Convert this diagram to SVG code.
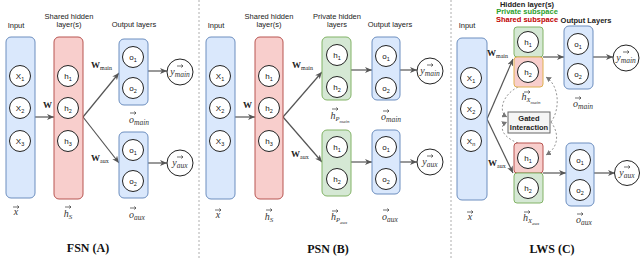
<svg xmlns="http://www.w3.org/2000/svg" xmlns:xlink="http://www.w3.org/1999/xlink" width="640" height="278" viewBox="0 0 640 278">
<style>
.bl{fill:#dae8fc;stroke:#6c8ebf;stroke-width:1}
.rd{fill:#f8cecc;stroke:#b85450;stroke-width:1}
.gr{fill:#d5e8d4;stroke:#82b366;stroke-width:1}
.nd{fill:#fff;stroke:#222;stroke-width:1}
.t{font-family:"Liberation Sans",Arial,sans-serif;font-size:7.5px;fill:#222;text-anchor:middle}
.n{font-family:"Liberation Sans",Arial,sans-serif;font-size:8px;fill:#111;text-anchor:middle}
.v{font-family:"Liberation Serif","Times New Roman",serif;font-style:italic;font-size:10px;fill:#333;text-anchor:middle}
.w{font-family:"Liberation Serif","Times New Roman",serif;font-weight:bold;font-size:9px;fill:#222}
.ttl{font-family:"Liberation Serif","Times New Roman",serif;font-weight:bold;font-size:12px;fill:#111;text-anchor:middle}
.ar{fill:none;stroke:#555;stroke-width:1.2;marker-end:url(#ah)}
.da{fill:none;stroke:#888;stroke-width:0.9;stroke-dasharray:2,2;marker-end:url(#dh)}
.sep{stroke:#999;stroke-width:0.8;stroke-dasharray:2,2}
.va{fill:none;stroke:#333;stroke-width:0.7}
</style>
<defs>
<marker id="ah" markerUnits="userSpaceOnUse" markerWidth="8" markerHeight="6" refX="7" refY="3" orient="auto"><path d="M0,0 L7,3 L0,6 L2,3 z" fill="#555"/></marker>
<marker id="dh" markerUnits="userSpaceOnUse" markerWidth="6" markerHeight="6" refX="5" refY="3" orient="auto"><path d="M0,0 L5,3 L0,6 z" fill="#777"/></marker>
<path id="vec" class="va" d="M-3,0 H3 M1.3,-1.5 L3,0 L1.3,1.5"/>
</defs>

<!-- separators -->
<g id="separators">
<line class="sep" x1="199" y1="0" x2="199" y2="258"/>
<line class="sep" x1="451" y1="0" x2="451" y2="258"/>
</g>

<!-- connectors -->
<g id="connectors">
<path class="ar" d="M35,117 L54,117"/>
<path class="ar" d="M83,117 L119,73"/>
<path class="ar" d="M83,117 L119,163"/>
<path class="ar" d="M148,71 L167,71"/>
<path class="ar" d="M148,163 L167,163"/>

<path class="ar" d="M235,117 L255,117"/>
<path class="ar" d="M283,117 L322,72"/>
<path class="ar" d="M283,117 L322,162"/>
<path class="ar" d="M351,70 L372,70"/>
<path class="ar" d="M351,162 L372,162"/>
<path class="ar" d="M400,70 L417,70"/>
<path class="ar" d="M400,162 L417,162"/>

<path class="ar" d="M487,119 L513,59"/>
<path class="ar" d="M487,119 L513,173"/>
<path class="ar" d="M543,57 L564,57"/>
<path class="ar" d="M543,173 L566,173"/>
<path class="ar" d="M593,57 L613,57"/>
<path class="ar" d="M594,173 L615,173"/>

<path class="da" d="M518,87 C502,95 498,112 507,117"/>
<path class="da" d="M518,143 C502,137 498,126 507,122"/>
<path class="da" d="M551,122 C560,110 560,86 546,77"/>
<path class="da" d="M551,122 C560,134 558,148 546,155"/>
</g>

<!-- ===== Panel A: FSN ===== -->
<g id="A-input">
<text class="t" x="16" y="28">Input</text>
<rect class="bl" x="6" y="37" width="29" height="161" rx="5"/>
<circle class="nd" cx="20" cy="76" r="10.5"/><text class="n" x="20" y="79">X<tspan font-size="5.5" dy="1.5">1</tspan></text>
<circle class="nd" cx="20" cy="108" r="10.5"/><text class="n" x="20" y="111">X<tspan font-size="5.5" dy="1.5">2</tspan></text>
<circle class="nd" cx="20" cy="141" r="10.5"/><text class="n" x="20" y="144">X<tspan font-size="5.5" dy="1.5">3</tspan></text>
<use href="#vec" x="16" y="207"/><text class="v" x="16" y="215">x</text>
</g>
<g id="A-hidden">
<text class="t" x="69" y="19">Shared hidden</text><text class="t" x="69" y="27">layer(s)</text>
<rect class="rd" x="54" y="37" width="29" height="162" rx="5"/>
<circle class="nd" cx="68" cy="76" r="10.5"/><text class="n" x="68" y="79">h<tspan font-size="5.5" dy="1.5">1</tspan></text>
<circle class="nd" cx="68" cy="108" r="10.5"/><text class="n" x="68" y="111">h<tspan font-size="5.5" dy="1.5">2</tspan></text>
<circle class="nd" cx="68" cy="141" r="10.5"/><text class="n" x="68" y="144">h<tspan font-size="5.5" dy="1.5">3</tspan></text>
<use href="#vec" x="68" y="207"/><text class="v" x="68" y="217">h<tspan font-size="7" dy="1.5">S</tspan></text>
</g>
<g id="A-out-main">
<text class="t" x="134" y="27">Output layers</text>
<rect class="bl" x="119" y="39" width="29" height="66" rx="5"/>
<circle class="nd" cx="133" cy="57" r="10.5"/><text class="n" x="133" y="60">o<tspan font-size="5.5" dy="1.5">1</tspan></text>
<circle class="nd" cx="133" cy="88" r="10.5"/><text class="n" x="133" y="91">o<tspan font-size="5.5" dy="1.5">2</tspan></text>
<use href="#vec" x="133" y="113"/><text class="v" x="139" y="123">o<tspan font-size="7.5" dy="1.5">main</tspan></text>
</g>
<g id="A-out-aux">
<rect class="bl" x="119" y="132" width="29" height="66" rx="5"/>
<circle class="nd" cx="133" cy="150" r="10.5"/><text class="n" x="133" y="153">o<tspan font-size="5.5" dy="1.5">1</tspan></text>
<circle class="nd" cx="133" cy="181" r="10.5"/><text class="n" x="133" y="184">o<tspan font-size="5.5" dy="1.5">2</tspan></text>
<use href="#vec" x="133" y="208"/><text class="v" x="137" y="218">o<tspan font-size="7.5" dy="1.5">aux</tspan></text>
</g>
<g id="A-ymain">
<circle class="nd" cx="180" cy="72" r="13"/>
<use href="#vec" x="180" y="66"/><text class="v" x="180" y="75">y<tspan font-size="7.5" dy="1.5">main</tspan></text>
</g>
<g id="A-yaux">
<circle class="nd" cx="180" cy="163" r="13"/>
<use href="#vec" x="180" y="157"/><text class="v" x="180" y="166">y<tspan font-size="7.5" dy="1.5">aux</tspan></text>
</g>
<g id="A-wlabels">
<text class="w" x="43" y="108">W</text>
<text class="w" x="91" y="68">W<tspan font-size="6" font-weight="normal" dy="1.5">main</tspan></text>
<text class="w" x="91" y="161">W<tspan font-size="6" font-weight="normal" dy="1.5">aux</tspan></text>
<text class="ttl" x="88" y="252">FSN (A)</text>
</g>

<!-- ===== Panel B: PSN ===== -->
<g id="B-input">
<text class="t" x="216" y="28">Input</text>
<rect class="bl" x="206" y="37" width="29" height="162" rx="5"/>
<circle class="nd" cx="220" cy="76" r="10.5"/><text class="n" x="220" y="79">X<tspan font-size="5.5" dy="1.5">1</tspan></text>
<circle class="nd" cx="220" cy="108" r="10.5"/><text class="n" x="220" y="111">X<tspan font-size="5.5" dy="1.5">2</tspan></text>
<circle class="nd" cx="220" cy="141" r="10.5"/><text class="n" x="220" y="144">X<tspan font-size="5.5" dy="1.5">3</tspan></text>
<use href="#vec" x="218" y="210"/><text class="v" x="218" y="218">x</text>
</g>
<g id="B-hidden">
<text class="t" x="269" y="19">Shared hidden</text><text class="t" x="269" y="27">layer(s)</text>
<rect class="rd" x="255" y="37" width="28" height="162" rx="5"/>
<circle class="nd" cx="269" cy="76" r="10.5"/><text class="n" x="269" y="79">h<tspan font-size="5.5" dy="1.5">1</tspan></text>
<circle class="nd" cx="269" cy="108" r="10.5"/><text class="n" x="269" y="111">h<tspan font-size="5.5" dy="1.5">2</tspan></text>
<circle class="nd" cx="269" cy="141" r="10.5"/><text class="n" x="269" y="144">h<tspan font-size="5.5" dy="1.5">3</tspan></text>
<use href="#vec" x="269" y="210"/><text class="v" x="269" y="220">h<tspan font-size="7" dy="1.5">S</tspan></text>
</g>
<g id="B-priv-main">
<text class="t" x="337" y="19">Private hidden</text><text class="t" x="337" y="27">layers</text>
<rect class="gr" x="322" y="37" width="29" height="63" rx="5"/>
<circle class="nd" cx="337" cy="55" r="10.5"/><text class="n" x="337" y="58">h<tspan font-size="5.5" dy="1.5">1</tspan></text>
<circle class="nd" cx="337" cy="87" r="10.5"/><text class="n" x="337" y="90">h<tspan font-size="5.5" dy="1.5">2</tspan></text>
<use href="#vec" x="335" y="109"/><text class="v" x="340" y="119">h<tspan font-size="6.5" dy="1.5">P</tspan><tspan font-size="5" dy="2">main</tspan></text>
</g>
<g id="B-priv-aux">
<rect class="gr" x="322" y="130" width="29" height="66" rx="5"/>
<circle class="nd" cx="337" cy="147" r="10.5"/><text class="n" x="337" y="150">h<tspan font-size="5.5" dy="1.5">1</tspan></text>
<circle class="nd" cx="337" cy="179" r="10.5"/><text class="n" x="337" y="182">h<tspan font-size="5.5" dy="1.5">2</tspan></text>
<use href="#vec" x="335" y="211"/><text class="v" x="339" y="220">h<tspan font-size="6.5" dy="1.5">P</tspan><tspan font-size="5" dy="2">aux</tspan></text>
</g>
<g id="B-out-main">
<text class="t" x="390" y="27">Output layers</text>
<rect class="bl" x="372" y="37" width="28" height="63" rx="5"/>
<circle class="nd" cx="386" cy="56" r="10.5"/><text class="n" x="386" y="59">o<tspan font-size="5.5" dy="1.5">1</tspan></text>
<circle class="nd" cx="386" cy="88" r="10.5"/><text class="n" x="386" y="91">o<tspan font-size="5.5" dy="1.5">2</tspan></text>
<use href="#vec" x="386" y="111"/><text class="v" x="391" y="120">o<tspan font-size="7.5" dy="1.5">main</tspan></text>
</g>
<g id="B-out-aux">
<rect class="bl" x="372" y="130" width="28" height="64" rx="5"/>
<circle class="nd" cx="386" cy="147" r="10.5"/><text class="n" x="386" y="150">o<tspan font-size="5.5" dy="1.5">1</tspan></text>
<circle class="nd" cx="386" cy="179" r="10.5"/><text class="n" x="386" y="182">o<tspan font-size="5.5" dy="1.5">2</tspan></text>
<use href="#vec" x="386" y="210"/><text class="v" x="390" y="220">o<tspan font-size="7.5" dy="1.5">aux</tspan></text>
</g>
<g id="B-ymain">
<circle class="nd" cx="430" cy="71" r="13"/>
<use href="#vec" x="430" y="65"/><text class="v" x="430" y="74">y<tspan font-size="7.5" dy="1.5">main</tspan></text>
</g>
<g id="B-yaux">
<circle class="nd" cx="430" cy="162" r="13"/>
<use href="#vec" x="430" y="156"/><text class="v" x="430" y="165">y<tspan font-size="7.5" dy="1.5">aux</tspan></text>
</g>
<g id="B-wlabels">
<text class="w" x="243" y="108">W</text>
<text class="w" x="292" y="68">W<tspan font-size="6" font-weight="normal" dy="1.5">main</tspan></text>
<text class="w" x="291" y="157">W<tspan font-size="6" font-weight="normal" dy="1.5">aux</tspan></text>
<text class="ttl" x="328" y="253">PSN (B)</text>
</g>

<!-- ===== Panel C: LWS ===== -->
<g id="C-input">
<text class="t" x="467" y="28">Input</text>
<rect class="bl" x="457" y="38" width="30" height="162" rx="5"/>
<circle class="nd" cx="471" cy="78" r="10.5"/><text class="n" x="471" y="81">X<tspan font-size="5.5" dy="1.5">1</tspan></text>
<circle class="nd" cx="471" cy="109" r="10.5"/><text class="n" x="471" y="112">X<tspan font-size="5.5" dy="1.5">2</tspan></text>
<circle class="nd" cx="471" cy="141" r="10.5"/><text class="n" x="471" y="144">X<tspan font-size="5.5" dy="1.5">n</tspan></text>
<use href="#vec" x="470" y="212"/><text class="v" x="470" y="220">x</text>
</g>
<g id="C-hidden-main">
<text class="t" x="527" y="6.5" font-weight="bold" font-size="6.3">Hidden layer(s)</text>
<text class="t" x="527" y="14" font-weight="bold" font-size="6" style="fill:#2ca02c">Private subspace</text>
<text class="t" x="527" y="21.5" font-weight="bold" font-size="6" style="fill:#c00000">Shared subspace</text>
<rect class="gr" x="514" y="27" width="29" height="30" rx="3"/>
<rect x="514" y="57" width="29" height="30" rx="3" fill="#f8cecc" stroke="#e0b050"/>
<circle class="nd" cx="528" cy="42" r="10.5"/><text class="n" x="528" y="45">h<tspan font-size="5.5" dy="1.5">1</tspan></text>
<circle class="nd" cx="528" cy="72" r="10.5"/><text class="n" x="528" y="75">h<tspan font-size="5.5" dy="1.5">2</tspan></text>
<use href="#vec" x="527" y="92"/><text class="v" x="531" y="100">h<tspan font-size="6.5" dy="1.5">X</tspan><tspan font-size="5" dy="2">main</tspan></text>
</g>
<g id="C-gated">
<rect x="508" y="112" width="42" height="21" fill="#f5f5f5" stroke="#666" stroke-width="1"/>
<text class="t" x="529" y="121" font-weight="bold" font-size="7">Gated</text>
<text class="t" x="529" y="129.5" font-weight="bold" font-size="7">Interaction</text>
</g>
<g id="C-hidden-aux">
<rect class="rd" x="514" y="143" width="29" height="30" rx="3"/>
<rect class="gr" x="514" y="173" width="29" height="30" rx="3"/>
<circle class="nd" cx="528" cy="158" r="10.5"/><text class="n" x="528" y="161">h<tspan font-size="5.5" dy="1.5">1</tspan></text>
<circle class="nd" cx="528" cy="188" r="10.5"/><text class="n" x="528" y="191">h<tspan font-size="5.5" dy="1.5">2</tspan></text>
<use href="#vec" x="527" y="212"/><text class="v" x="531" y="221">h<tspan font-size="6.5" dy="1.5">X</tspan><tspan font-size="5" dy="2">aux</tspan></text>
</g>
<g id="C-out-main">
<text class="t" x="586" y="23" font-weight="bold" font-size="7">Output Layers</text>
<rect class="bl" x="564" y="26" width="29" height="63" rx="5"/>
<circle class="nd" cx="578" cy="44" r="10.5"/><text class="n" x="578" y="47">o<tspan font-size="5.5" dy="1.5">1</tspan></text>
<circle class="nd" cx="578" cy="74" r="10.5"/><text class="n" x="578" y="77">o<tspan font-size="5.5" dy="1.5">2</tspan></text>
<use href="#vec" x="578" y="98"/><text class="v" x="583" y="107">o<tspan font-size="7.5" dy="1.5">main</tspan></text>
</g>
<g id="C-out-aux">
<rect class="bl" x="566" y="143" width="28" height="63" rx="5"/>
<circle class="nd" cx="580" cy="160" r="10.5"/><text class="n" x="580" y="163">o<tspan font-size="5.5" dy="1.5">1</tspan></text>
<circle class="nd" cx="580" cy="190" r="10.5"/><text class="n" x="580" y="193">o<tspan font-size="5.5" dy="1.5">2</tspan></text>
<use href="#vec" x="580" y="214"/><text class="v" x="584" y="223">o<tspan font-size="7.5" dy="1.5">aux</tspan></text>
</g>
<g id="C-ymain">
<circle class="nd" cx="626" cy="58" r="13"/>
<use href="#vec" x="626" y="52"/><text class="v" x="626" y="61">y<tspan font-size="7.5" dy="1.5">main</tspan></text>
</g>
<g id="C-yaux">
<circle class="nd" cx="627" cy="173" r="12.5"/>
<use href="#vec" x="627" y="167"/><text class="v" x="627" y="176">y<tspan font-size="7.5" dy="1.5">aux</tspan></text>
</g>
<g id="C-wlabels">
<text class="w" x="487" y="56">W<tspan font-size="6" font-weight="normal" dy="1.5">main</tspan></text>
<text class="w" x="488" y="166">W<tspan font-size="6" font-weight="normal" dy="1.5">aux</tspan></text>
<text class="ttl" x="552" y="253">LWS (C)</text>
</g>
</svg>
